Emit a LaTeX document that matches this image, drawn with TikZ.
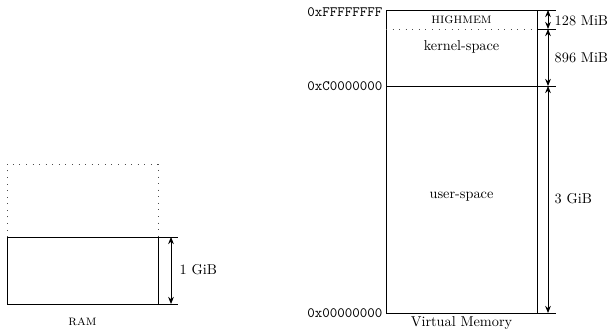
\documentclass[tikz,border=0pt]{standalone}
\usetikzlibrary{arrows.meta}
\begin{document}
\begin{tikzpicture}[x=0.7pt,y=-0.7pt,
  dim/.style={{Stealth[length=5pt,width=4pt]}-{Stealth[length=5pt,width=4pt]}, semithick},
  edge/.style={semithick},
  dots/.style={loosely dotted, semithick, black!70},
  addr/.style={anchor=east, font=\ttfamily, inner sep=1pt},
  lbl/.style={anchor=west, inner sep=1pt}]
\useasboundingbox (0,0) rectangle (610,331);
% Virtual memory
\coordinate (vTL) at (386,10);
\coordinate (vBR) at (537,313);
\draw[edge] (vTL) rectangle (vBR);
\draw[edge] (386,86) -- (556,86);
\draw[edge] (537,10) -- (556,10);
\draw[edge] (537,313) -- (556,313);
\draw[edge] (537,29) -- (556,29);
\draw[dots] (386,29) -- (537,29);
\coordinate (a0) at (548,10);
\coordinate (a1) at (548,29);
\coordinate (a2) at (548,86);
\coordinate (a3) at (548,313);
\draw[dim] (a0) -- (a1);
\draw[dim] (a1) -- (a2);
\draw[dim] (a2) -- (a3);
\node[lbl] (l128) at (553,21) {128 MiB};
\node[lbl] (l896) at (553,58) {896 MiB};
\node[lbl] (l3) at (553,199) {3 GiB};
\node[addr] (aF) at (384,12) {0xFFFFFFFF};
\node[addr] (aC) at (384,86) {0xC0000000};
\node[addr] (a00) at (384,313) {0x00000000};
\node (hm) at (461.5,20) {\textsc{highmem}};
\node (ks) at (461.5,47) {kernel-space};
\node (us) at (461.5,197) {user-space};
\node (vm) at (461.5,323) {Virtual Memory};
% RAM
\draw[dots] (7,237) -- (7,164) -- (158,164) -- (158,237);
\draw[edge] (7,237) rectangle (158,304);
\draw[edge] (158,237) -- (178,237);
\draw[edge] (158,304) -- (178,304);
\coordinate (r0) at (171,237);
\coordinate (r1) at (171,304);
\draw[dim] (r0) -- (r1);
\node[lbl] (l1) at (178,270) {1 GiB};
\node (ram) at (82.5,322) {\textsc{ram}};
\end{tikzpicture}
\end{document}
